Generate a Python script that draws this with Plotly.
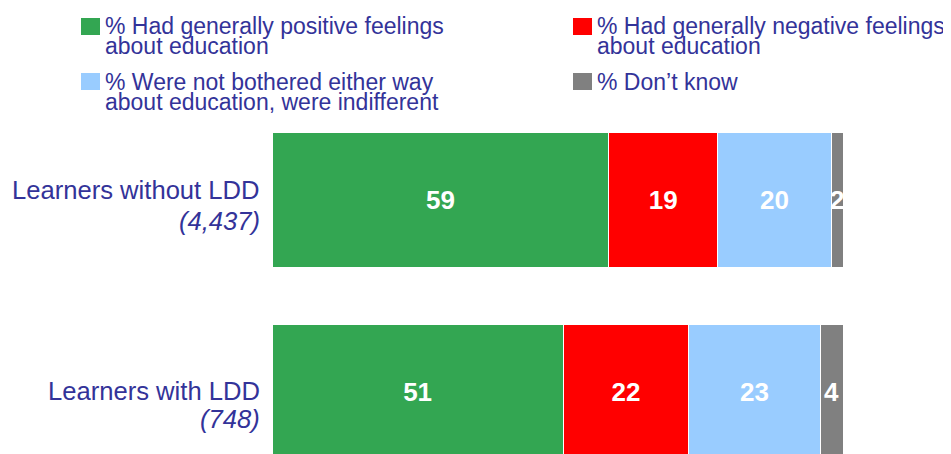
import plotly.graph_objects as go

# data
categories = ["Learners without LDD", "Learners with LDD"]
bases = ["(4,437)", "(748)"]
positive = [59, 51]
negative = [19, 22]
indifferent = [20, 23]
dont_know = [2, 4]

series_names = [
    "% Had generally positive feelings<br>about education",
    "% Had generally negative feelings<br>about education",
    "% Were not bothered either way<br>about education, were indifferent",
    "% Don\u2019t know",
]
series_values = [positive, negative, indifferent, dont_know]
colors = ["#33A652", "#FF0000", "#99CCFF", "#808080"]

# page body has an 8px margin, so the figure is drawn 8px smaller
W, H = 943, 446
L, R, T, B = 264, 108, 96, 0
NAVY = "#333399"
FONT = "Arial, Liberation Sans, sans-serif"

fig = go.Figure()
for name, vals, color in zip(series_names, series_values, colors):
    fig.add_trace(go.Bar(
        y=categories, x=vals, orientation="h", name=name,
        marker=dict(color=color, line=dict(color="white", width=1)),
        text=vals, texttemplate="<b>%{x}</b>",
        textposition="inside", insidetextanchor="middle",
        textfont=dict(color="white", size=26, family=FONT),
        width=0.703, showlegend=False, cliponaxis=False,
    ))

# reference-pixel -> paper helpers for the hand-drawn legend
def px_x(px):
    return (px - 8 - L) / (W - L - R)

def px_y(py):
    return (H - B - (py - 8)) / (H - T - B)

# legend: (column x, row top y) for each series
legend_pos = [(81, 18), (573, 18), (81, 73), (573, 73)]
for name, color, (lx, ly) in zip(series_names, colors, legend_pos):
    fig.add_shape(type="rect", xref="paper", yref="paper",
                  x0=px_x(lx), x1=px_x(lx + 19), y0=px_y(ly), y1=px_y(ly + 17),
                  fillcolor=color, line=dict(width=0))
    for i, line in enumerate(name.split("<br>")):
        fig.add_annotation(
            text=line, xref="paper", yref="paper",
            x=px_x(lx + 22), y=px_y(ly + 8.5 + i * 20),
            xanchor="left", yanchor="middle", showarrow=False,
            font=dict(size=23, color=NAVY, family=FONT),
        )

# category labels, name over italic base size
label_shift = [(10.5, -20.5), (1.5, -26.5)]
for cat, base, (s1, s2) in zip(categories, bases, label_shift):
    for txt, shift in ((cat, s1), (f"<i>{base}</i>", s2)):
        fig.add_annotation(
            text=txt, xref="x", yref="y", x=0, y=cat,
            xanchor="right", yanchor="middle", xshift=-10, yshift=shift,
            showarrow=False, font=dict(size=25.6, color=NAVY, family=FONT),
        )

fig.update_layout(
    width=W, height=H,
    barmode="stack",
    plot_bgcolor="white", paper_bgcolor="white",
    margin=dict(l=L, r=R, t=T, b=B, pad=0),
    uniformtext=dict(mode="show", minsize=26),
    xaxis=dict(range=[0, 100], visible=False, fixedrange=True),
    yaxis=dict(
        type="category", categoryorder="array", categoryarray=categories,
        range=[(H - T - B) / 192 - 0.5, -0.5],
        showgrid=False, showline=False, zeroline=False, ticks="",
        showticklabels=False, automargin=False,
    ),
    font=dict(family=FONT, color=NAVY),
)

fig.write_html("out.html")
